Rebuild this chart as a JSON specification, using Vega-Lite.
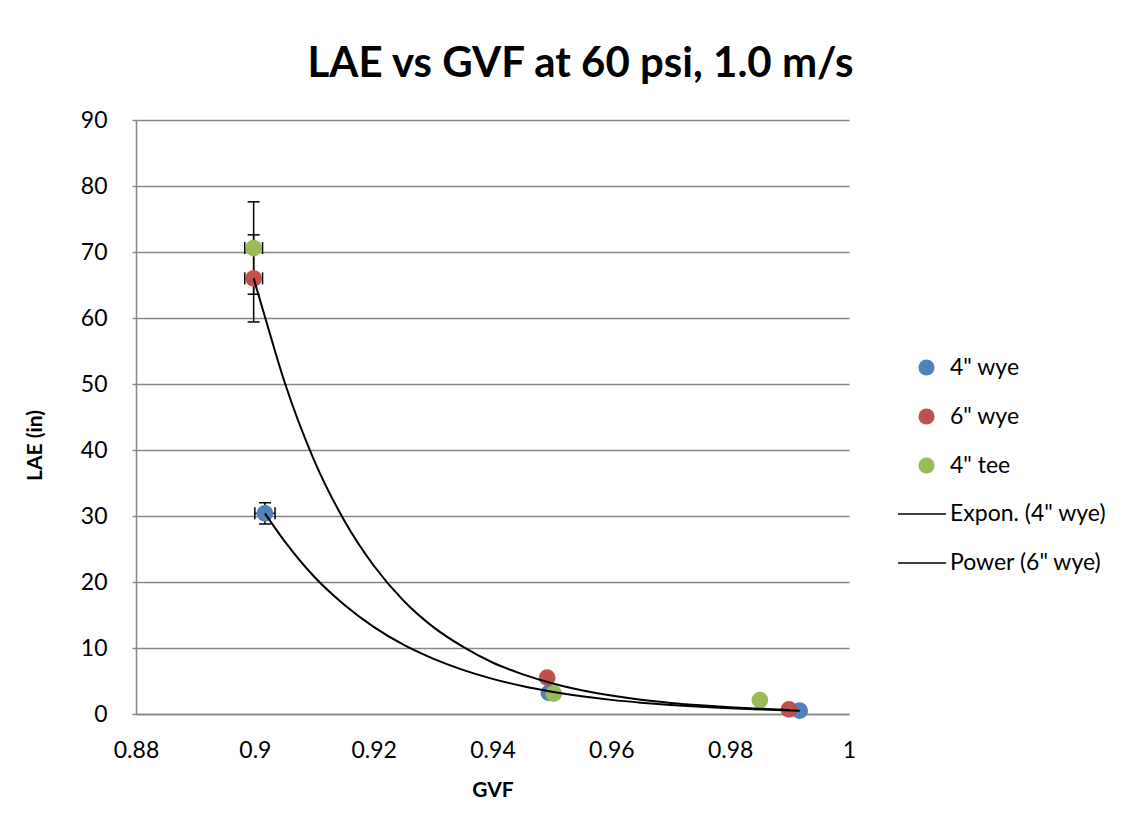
{
  "$schema": "https://vega.github.io/schema/vega-lite/v6.json",
  "autosize": "none",
  "padding": {"left": 136, "top": 120, "right": 294, "bottom": 119},
  "width": 713,
  "height": 594,
  "background": "white",
  "title": {
    "text": "LAE vs GVF at 60 psi, 1.0 m/s",
    "font": "Lato",
    "fontSize": 42,
    "fontWeight": "bold",
    "color": "black",
    "anchor": "middle",
    "frame": "group",
    "baseline": "alphabetic",
    "offset": -10,
    "dx": 88
  },
  "datasets": {
    "pts": [
      {"series": "4\" wye", "gvf": 0.9017, "lae": 30.4},
      {"series": "4\" wye", "gvf": 0.9495, "lae": 3.2},
      {"series": "4\" wye", "gvf": 0.9917, "lae": 0.5},
      {"series": "6\" wye", "gvf": 0.8998, "lae": 66.0},
      {"series": "6\" wye", "gvf": 0.9492, "lae": 5.5},
      {"series": "6\" wye", "gvf": 0.9899, "lae": 0.7},
      {"series": "4\" tee", "gvf": 0.8998, "lae": 70.6},
      {"series": "4\" tee", "gvf": 0.9503, "lae": 3.1},
      {"series": "4\" tee", "gvf": 0.985, "lae": 2.1}
    ],
    "err": [
      {"series": "4\" wye", "gvf": 0.9017, "lae": 30.4, "ylo": 28.8, "yhi": 32.0, "xlo": 0.9, "xhi": 0.9034},
      {"series": "6\" wye", "gvf": 0.8998, "lae": 66.0, "ylo": 59.4, "yhi": 72.6, "xlo": 0.8983, "xhi": 0.9013},
      {"series": "4\" tee", "gvf": 0.8998, "lae": 70.6, "ylo": 63.6, "yhi": 77.6, "xlo": 0.8983, "xhi": 0.9013}
    ],
    "trend": [
      {"series": "Expon. (4\" wye)", "gvf": 0.9017, "lae": 30.4},
      {"series": "Expon. (4\" wye)", "gvf": 0.905, "lae": 26.2},
      {"series": "Expon. (4\" wye)", "gvf": 0.91, "lae": 20.8},
      {"series": "Expon. (4\" wye)", "gvf": 0.915, "lae": 16.6},
      {"series": "Expon. (4\" wye)", "gvf": 0.92, "lae": 13.2},
      {"series": "Expon. (4\" wye)", "gvf": 0.925, "lae": 10.5},
      {"series": "Expon. (4\" wye)", "gvf": 0.93, "lae": 8.39},
      {"series": "Expon. (4\" wye)", "gvf": 0.935, "lae": 6.68},
      {"series": "Expon. (4\" wye)", "gvf": 0.94, "lae": 5.32},
      {"series": "Expon. (4\" wye)", "gvf": 0.945, "lae": 4.24},
      {"series": "Expon. (4\" wye)", "gvf": 0.95, "lae": 3.38},
      {"series": "Expon. (4\" wye)", "gvf": 0.955, "lae": 2.69},
      {"series": "Expon. (4\" wye)", "gvf": 0.96, "lae": 2.14},
      {"series": "Expon. (4\" wye)", "gvf": 0.965, "lae": 1.71},
      {"series": "Expon. (4\" wye)", "gvf": 0.97, "lae": 1.36},
      {"series": "Expon. (4\" wye)", "gvf": 0.975, "lae": 1.08},
      {"series": "Expon. (4\" wye)", "gvf": 0.98, "lae": 0.86},
      {"series": "Expon. (4\" wye)", "gvf": 0.985, "lae": 0.69},
      {"series": "Expon. (4\" wye)", "gvf": 0.9917, "lae": 0.51},
      {"series": "Power (6\" wye)", "gvf": 0.8998, "lae": 66.0},
      {"series": "Power (6\" wye)", "gvf": 0.9015, "lae": 60.8},
      {"series": "Power (6\" wye)", "gvf": 0.905, "lae": 50.3},
      {"series": "Power (6\" wye)", "gvf": 0.91, "lae": 38.4},
      {"series": "Power (6\" wye)", "gvf": 0.915, "lae": 29.4},
      {"series": "Power (6\" wye)", "gvf": 0.92, "lae": 22.5},
      {"series": "Power (6\" wye)", "gvf": 0.925, "lae": 17.2},
      {"series": "Power (6\" wye)", "gvf": 0.93, "lae": 13.2},
      {"series": "Power (6\" wye)", "gvf": 0.935, "lae": 10.2},
      {"series": "Power (6\" wye)", "gvf": 0.94, "lae": 7.8},
      {"series": "Power (6\" wye)", "gvf": 0.945, "lae": 6.05},
      {"series": "Power (6\" wye)", "gvf": 0.95, "lae": 4.67},
      {"series": "Power (6\" wye)", "gvf": 0.955, "lae": 3.61},
      {"series": "Power (6\" wye)", "gvf": 0.96, "lae": 2.79},
      {"series": "Power (6\" wye)", "gvf": 0.965, "lae": 2.16},
      {"series": "Power (6\" wye)", "gvf": 0.97, "lae": 1.68},
      {"series": "Power (6\" wye)", "gvf": 0.975, "lae": 1.31},
      {"series": "Power (6\" wye)", "gvf": 0.98, "lae": 1.02},
      {"series": "Power (6\" wye)", "gvf": 0.985, "lae": 0.79},
      {"series": "Power (6\" wye)", "gvf": 0.99, "lae": 0.62}
    ]
  },
  "config": {
    "font": "Lato",
    "view": {"stroke": null},
    "axis": {
      "labelFont": "Lato",
      "labelFontSize": 23,
      "labelColor": "black",
      "titleFont": "Lato",
      "titleFontSize": 21,
      "titleFontWeight": "bold",
      "titleColor": "black",
      "domainColor": "#868686",
      "domainWidth": 1.5,
      "gridColor": "#868686",
      "gridWidth": 1.5,
      "tickColor": "#868686"
    },
    "legend": {
      "padding": 0,
      "labelFont": "Lato",
      "labelFontSize": 23,
      "labelColor": "black",
      "labelLimit": 300
    }
  },
  "encoding": {
    "x": {
      "field": "gvf",
      "type": "quantitative",
      "scale": {"domain": [0.88, 1], "nice": false, "zero": false},
      "axis": {
        "title": "GVF",
        "values": [0.88, 0.9, 0.92, 0.94, 0.96, 0.98, 1],
        "format": "~g",
        "grid": false,
        "ticks": false,
        "labelFlush": false,
        "labelPadding": 25,
        "titleBaseline": "middle",
        "titleY": 76
      }
    },
    "y": {
      "field": "lae",
      "type": "quantitative",
      "scale": {"domain": [0, 90], "nice": false},
      "axis": {
        "title": "LAE (in)",
        "values": [0, 10, 20, 30, 40, 50, 60, 70, 80, 90],
        "grid": true,
        "tickSize": 4,
        "tickWidth": 1.5,
        "labelFlush": false,
        "labelPadding": 25,
        "titleX": -101,
        "titleY": 325,
        "titleBaseline": "middle"
      }
    }
  },
  "layer": [
    {
      "data": {"name": "err"},
      "mark": {"type": "rule", "color": "black", "strokeWidth": 1.5},
      "encoding": {"y": {"field": "ylo", "type": "quantitative"}, "y2": {"field": "yhi"}}
    },
    {
      "data": {"name": "err"},
      "mark": {"type": "tick", "orient": "horizontal", "color": "black", "size": 12, "thickness": 1.5, "opacity": 1},
      "encoding": {"y": {"field": "ylo", "type": "quantitative"}}
    },
    {
      "data": {"name": "err"},
      "mark": {"type": "tick", "orient": "horizontal", "color": "black", "size": 12, "thickness": 1.5, "opacity": 1},
      "encoding": {"y": {"field": "yhi", "type": "quantitative"}}
    },
    {
      "data": {"name": "err"},
      "mark": {"type": "rule", "color": "black", "strokeWidth": 1.5},
      "encoding": {"x": {"field": "xlo", "type": "quantitative"}, "x2": {"field": "xhi"}}
    },
    {
      "data": {"name": "err"},
      "mark": {"type": "tick", "orient": "vertical", "color": "black", "size": 12, "thickness": 1.5, "opacity": 1},
      "encoding": {"x": {"field": "xlo", "type": "quantitative"}}
    },
    {
      "data": {"name": "err"},
      "mark": {"type": "tick", "orient": "vertical", "color": "black", "size": 12, "thickness": 1.5, "opacity": 1},
      "encoding": {"x": {"field": "xhi", "type": "quantitative"}}
    },
    {
      "data": {"name": "pts"},
      "mark": {"type": "point", "shape": "circle", "filled": true, "size": 280, "opacity": 1},
      "encoding": {
        "color": {
          "field": "series",
          "type": "nominal",
          "sort": null,
          "scale": {
            "domain": ["4\" wye", "6\" wye", "4\" tee"],
            "range": ["#4F81BD", "#C0504D", "#9BBB59"]
          },
          "legend": {
            "title": null,
            "orient": "none",
            "legendX": 779,
            "legendY": 236,
            "symbolType": "circle",
            "symbolSize": 260,
            "symbolOpacity": 1,
            "rowPadding": 25,
            "labelOffset": 12
          }
        }
      }
    },
    {
      "data": {"name": "trend"},
      "mark": {"type": "line", "strokeWidth": 2, "interpolate": "monotone"},
      "encoding": {
        "stroke": {
          "field": "series",
          "type": "nominal",
          "sort": null,
          "scale": {
            "domain": ["Expon. (4\" wye)", "Power (6\" wye)"],
            "range": ["black", "black"]
          },
          "legend": {
            "title": null,
            "orient": "none",
            "legendX": 761,
            "legendY": 369,
            "symbolType": "stroke",
            "symbolSize": 2304,
            "symbolStrokeWidth": 1.5,
            "rowPadding": 12,
            "labelOffset": 3
          }
        },
        "detail": {"field": "series", "type": "nominal"}
      }
    }
  ]
}
